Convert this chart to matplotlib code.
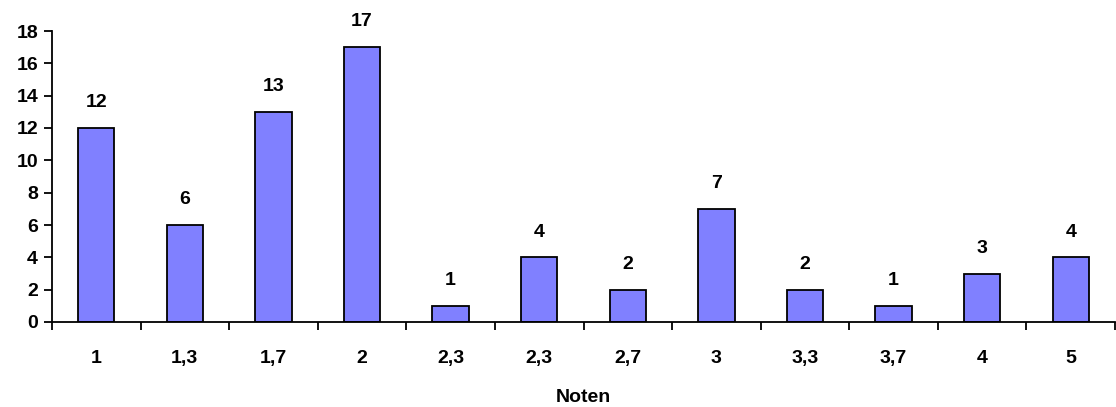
import matplotlib
matplotlib.use("Agg")
import matplotlib.pyplot as plt
import numpy as np

categories = ["1", "1,3", "1,7", "2", "2,3", "2,3", "2,7", "3", "3,3", "3,7", "4", "5"]
values = [12, 6, 13, 17, 1, 4, 2, 7, 2, 1, 3, 4]
y_ticks = [0, 2, 4, 6, 8, 10, 12, 14, 16, 18]
x_label = "Noten"

plt.rcParams['font.family'] = ['Liberation Sans', 'DejaVu Sans']
plt.rcParams['font.weight'] = 'bold'

fs = 14
fig = plt.figure(figsize=(11.16, 4.07), dpi=100)
W, H = 1116, 407
ax = fig.add_axes([52 / W, 1 - 322 / H, (1115 - 52) / W, (322 - 31) / H])

x = np.arange(len(categories))
ax.bar(x, values, width=0.41, color="#8080FF", edgecolor="black", linewidth=1.3, zorder=2)
for xi, v in zip(x, values):
    ax.annotate(str(v), (xi, v), xytext=(0, 12), textcoords="offset points",
                ha="center", va="bottom", fontsize=fs, fontweight="bold")

ax.set_xlim(-0.5, len(categories) - 0.5)
ax.set_ylim(0, 18)
ax.set_yticks(y_ticks)
ax.set_yticklabels([str(t) for t in y_ticks], fontsize=fs, fontweight="bold")
ax.set_xticks(x)
ax.set_xticklabels(categories, fontsize=fs, fontweight="bold")
ax.set_xticks(np.arange(len(categories) + 1) - 0.5, minor=True)
ax.tick_params(axis="x", which="major", length=0, pad=20)
ax.tick_params(axis="x", which="minor", length=6, width=1.3, direction="out")
ax.tick_params(axis="y", length=6, width=1.3, direction="out", pad=4)
ax.set_xlabel(x_label, fontsize=fs, fontweight="bold", labelpad=16)

for s in ["top", "right"]:
    ax.spines[s].set_visible(False)
for s in ["left", "bottom"]:
    ax.spines[s].set_linewidth(1.3)

fig.savefig("out.png", dpi=100)
